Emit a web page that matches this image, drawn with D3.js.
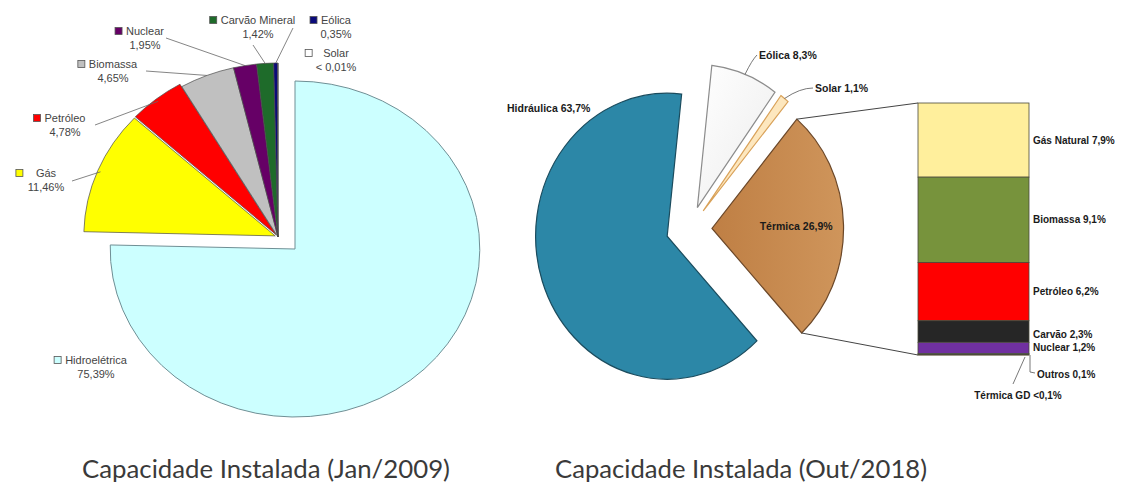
<!DOCTYPE html>
<html>
<head>
<meta charset="utf-8">
<script src="https://cdn.jsdelivr.net/npm/d3@7/dist/d3.min.js"></script>
<style>
    body { margin: 0; background: #fff; }
    svg { display: block; }
    .lbl { font-family: "Liberation Sans", Arial, sans-serif; font-size: 11px; fill: #444; }
    .blbl { font-family: "Liberation Sans Narrow", "Liberation Sans", Arial, sans-serif; font-weight: bold; fill: #1a1a1a; }
    .title { font-family: Lato, "Open Sans", sans-serif; font-size: 25px; fill: #3a3a3a; }
</style>
</head>
<body>
<div id="chart"></div>
<script>
// ... Jan/2009
const cat2009 = ['Hidroelétrica', 'Gás', 'Petróleo', 'Biomassa', 'Nuclear', 'Carvão Mineral', 'Eólica', 'Solar'];
const val2009 = [75.39, 11.46, 4.78, 4.65, 1.95, 1.42, 0.35, 0.01];
const txt2009 = ['75,39%', '11,46%', '4,78%', '4,65%', '1,95%', '1,42%', '0,35%', '< 0,01%'];
const col2009 = ['#CCFFFF', '#FFFF00', '#FF0000', '#C0C0C0', '#660066', '#1E6B2A', '#0A0A7A', '#FFFFFF'];

// ... Out/2018
const cat2018 = ['Hidráulica', 'Eólica', 'Solar', 'Térmica'];
const val2018 = [63.7, 8.3, 1.1, 26.9];
const txt2018 = ['63,7%', '8,3%', '1,1%', '26,9%'];
const col2018 = ['#2C87A7', 'url(#eolGrad)', '#FDE7BE', 'url(#termGrad)'];
const stroke2018 = ['#1B4C5E', '#8C8C8C', '#D9A25A', '#6B4728'];

// ... Térmica breakdown (bar)
const catTerm = ['Gás Natural', 'Biomassa', 'Petróleo', 'Carvão', 'Nuclear', 'Outros', 'Térmica GD'];
const valTerm = [7.9, 9.1, 6.2, 2.3, 1.2, 0.1, 0.05];
const txtTerm = ['7,9%', '9,1%', '6,2%', '2,3%', '1,2%', '0,1%', '<0,1%'];
const colTerm = ['#FFEF9C', '#77933C', '#FF0000', '#262626', '#7030A0', '#8EB4E3', '#F79646'];

const titles = ['Capacidade Instalada (Jan/2009)', 'Capacidade Instalada (Out/2018)'];

const W = 1121, H = 487;
const svg = d3.select('#chart').append('svg')
    .attr('width', W)
    .attr('height', H);

const defs = svg.append('defs');
const tg = defs.append('linearGradient').attr('id', 'termGrad')
    .attr('x1', '0').attr('y1', '0').attr('x2', '1').attr('y2', '0');
tg.append('stop').attr('offset', '0').attr('stop-color', '#BF7F44');
tg.append('stop').attr('offset', '1').attr('stop-color', '#CF955B');
const eg = defs.append('linearGradient').attr('id', 'eolGrad')
    .attr('x1', '0').attr('y1', '0').attr('x2', '1').attr('y2', '1');
eg.append('stop').attr('offset', '0').attr('stop-color', '#FFFFFF');
eg.append('stop').attr('offset', '1').attr('stop-color', '#ECECEC');

const ptOn = (cx, cy, sx, r, a) => [cx + sx * r * Math.sin(a), cy - r * Math.cos(a)];

// ---------------- left pie ----------------
const pie1 = d3.pie().sort(null).value(i => val2009[i])(d3.range(cat2009.length));
const sx1 = 1.1;
const hydroC = [295, 249], hydroR = 168;
const restC = [278, 237], restR = 174;
const arcH = d3.arc().innerRadius(0).outerRadius(hydroR);
const arcR = d3.arc().innerRadius(0).outerRadius(restR);

pie1.forEach(d => {
    const i = d.data;
    const isHydro = i === 0;
    const c = isHydro ? hydroC : restC;
    // small gap for gas and petroleum slices
    const ex = (i === 1 || i === 2) ? 3 : 0;
    const mid = (d.startAngle + d.endAngle) / 2;
    const ox = c[0] + ex * Math.sin(mid), oy = c[1] - ex * Math.cos(mid);
    svg.append('path')
        .attr('transform', 'translate(' + ox + ',' + oy + ') scale(' + sx1 + ',1)')
        .attr('d', (isHydro ? arcH : arcR)(d))
        .attr('fill', col2009[i])
        .attr('stroke', isHydro ? '#6F8F95' : '#4a4a4a')
        .attr('stroke-width', isHydro ? 1 : 0.7)
        .attr('vector-effect', 'non-scaling-stroke');
});

// label layout: anchor x, line-1 y, leader start
const lay2009 = [
    {x: 96, y: 360, mk: 11},
    {x: 46, y: 173, mk: 20, lead: [72, 181]},
    {x: 65, y: 118, mk: 11, lead: [95, 125]},
    {x: 113, y: 64, mk: 11, lead: [146, 71]},
    {x: 145, y: 31, mk: 11, lead: [166, 38]},
    {x: 258, y: 20, mk: 11, lead: [253, 45]},
    {x: 336, y: 20, mk: 11, lead: [293, 28]},
    {x: 336, y: 53, mk: 18}
];

pie1.forEach(d => {
    const i = d.data;
    const L = lay2009[i];
    const g = svg.append('g');
    const t1 = g.append('text').attr('class', 'lbl')
        .attr('x', L.x).attr('y', L.y).attr('dy', '0.35em')
        .attr('text-anchor', 'middle').text(cat2009[i]);
    g.append('text').attr('class', 'lbl')
        .attr('x', L.x).attr('y', L.y + 14).attr('dy', '0.35em')
        .attr('text-anchor', 'middle').text(txt2009[i]);
    const w = t1.node().getComputedTextLength();
    g.append('rect')
        .attr('x', L.x - w / 2 - L.mk).attr('y', L.y - 3.5)
        .attr('width', 7).attr('height', 7)
        .attr('fill', col2009[i]).attr('stroke', '#555').attr('stroke-width', 0.8);
    if (L.lead) {
        const mid = (d.startAngle + d.endAngle) / 2;
        const p = ptOn(restC[0], restC[1], sx1, restR, mid);
        svg.append('line')
            .attr('x1', L.lead[0]).attr('y1', L.lead[1])
            .attr('x2', p[0]).attr('y2', p[1])
            .attr('stroke', '#666').attr('stroke-width', 0.8);
    }
});

// ---------------- right pie ----------------
const startA = 137 * Math.PI / 180;
const pie2 = d3.pie().sort(null).value(i => val2018[i])
    .startAngle(startA).endAngle(startA + 2 * Math.PI)(d3.range(cat2018.length));
const C2 = [689, 229], r2 = 143, sx2 = 0.92, explode = 23;
const arc2 = d3.arc().innerRadius(0).outerRadius(r2);
const centers2 = [];

pie2.forEach(d => {
    const i = d.data;
    const mid = (d.startAngle + d.endAngle) / 2;
    const cx = C2[0] + explode * Math.sin(mid), cy = C2[1] - explode * Math.cos(mid);
    centers2[i] = [cx, cy, mid, d];
    svg.append('path')
        .attr('transform', 'translate(' + cx + ',' + cy + ') scale(' + sx2 + ',1)')
        .attr('d', arc2(d))
        .attr('fill', col2018[i])
        .attr('stroke', stroke2018[i])
        .attr('stroke-width', 1.2)
        .attr('vector-effect', 'non-scaling-stroke');
});

// connector lines from Térmica to bar
const term = centers2[3];
const pTop = ptOn(term[0], term[1], sx2, r2, term[3].startAngle);
const pBot = ptOn(term[0], term[1], sx2, r2, term[3].endAngle);

const barX = 918, barW = 111;
const y = d3.scaleLinear().domain([0, d3.sum(valTerm)]).range([103, 355]);

svg.append('line').attr('x1', pTop[0]).attr('y1', pTop[1]).attr('x2', barX).attr('y2', y(0))
    .attr('stroke', '#444').attr('stroke-width', 1);
svg.append('line').attr('x1', pBot[0]).attr('y1', pBot[1]).attr('x2', barX).attr('y2', y(d3.sum(valTerm)))
    .attr('stroke', '#444').attr('stroke-width', 1);

// right pie labels
svg.append('text').attr('class', 'blbl').style('font-size', '10.5px')
    .attr('x', 507).attr('y', 108).attr('dy', '0.35em')
    .text(cat2018[0] + ' ' + txt2018[0]);

const eol = centers2[1], sol = centers2[2];
const pE = ptOn(eol[0], eol[1], sx2, r2, eol[2]);
const pS = ptOn(sol[0], sol[1], sx2, r2, sol[2]);
svg.append('path').attr('d', 'M' + pE[0] + ',' + pE[1] + ' Q752,60 757,55')
    .attr('fill', 'none').attr('stroke', '#555').attr('stroke-width', 0.8);
svg.append('text').attr('class', 'blbl').style('font-size', '10.5px')
    .attr('x', 759).attr('y', 55).attr('dy', '0.35em')
    .text(cat2018[1] + ' ' + txt2018[1]);
svg.append('path').attr('d', 'M' + pS[0] + ',' + pS[1] + ' Q800,88 813,88')
    .attr('fill', 'none').attr('stroke', '#555').attr('stroke-width', 0.8);
svg.append('text').attr('class', 'blbl').style('font-size', '10.5px')
    .attr('x', 815).attr('y', 88).attr('dy', '0.35em')
    .text(cat2018[2] + ' ' + txt2018[2]);

const pT = ptOn(term[0], term[1], sx2, r2 * 0.64, term[2]);
svg.append('text').attr('class', 'blbl').style('font-size', '10.5px')
    .attr('x', pT[0]).attr('y', pT[1]).attr('dy', '0.35em')
    .attr('text-anchor', 'middle')
    .text(cat2018[3] + ' ' + txt2018[3]);

// ---------------- bar of pie ----------------
let acc = 0;
const segs = valTerm.map((v, i) => {
    const s = {i: i, y0: acc, y1: acc + v};
    acc += v;
    return s;
});

svg.append('g').selectAll('rect')
    .data(segs)
    .join('rect')
    .attr('x', barX)
    .attr('y', d => y(d.y0))
    .attr('width', barW)
    .attr('height', d => Math.max(0.6, y(d.y1) - y(d.y0)))
    .attr('fill', d => colTerm[d.i])
    .attr('stroke', '#4a4a3a')
    .attr('stroke-width', 0.8);

segs.slice(0, 5).forEach(d => {
    const ym = (y(d.y0) + y(d.y1)) / 2 + (d.i === 3 ? 3 : 0);
    svg.append('text').attr('class', 'blbl').style('font-size', '10px')
        .attr('x', barX + barW + 4).attr('y', ym).attr('dy', '0.35em')
        .text(catTerm[d.i] + ' ' + txtTerm[d.i]);
});

// Outros
const yb = y(d3.sum(valTerm));
svg.append('path').attr('d', 'M' + (barX + barW + 1) + ',' + yb + ' L' + (barX + barW + 1) + ',372 L' + (barX + barW + 6) + ',373')
    .attr('fill', 'none').attr('stroke', '#555').attr('stroke-width', 0.8);
svg.append('text').attr('class', 'blbl').style('font-size', '10px')
    .attr('x', barX + barW + 8).attr('y', 374).attr('dy', '0.35em')
    .text(catTerm[5] + ' ' + txtTerm[5]);

// Térmica GD
svg.append('line').attr('x1', barX + barW - 4).attr('y1', yb + 2).attr('x2', 1013).attr('y2', 384)
    .attr('stroke', '#555').attr('stroke-width', 0.8);
svg.append('text').attr('class', 'blbl').style('font-size', '10px')
    .attr('x', 1018).attr('y', 395).attr('dy', '0.35em')
    .attr('text-anchor', 'middle')
    .text(catTerm[6] + ' ' + txtTerm[6]);

// ---------------- titles ----------------
svg.append('text').attr('class', 'title')
    .attr('x', 82).attr('y', 478)
    .attr('textLength', 368).attr('lengthAdjust', 'spacingAndGlyphs')
    .text(titles[0]);
svg.append('text').attr('class', 'title')
    .attr('x', 555).attr('y', 478)
    .attr('textLength', 372).attr('lengthAdjust', 'spacingAndGlyphs')
    .text(titles[1]);
</script>
</body>
</html>
